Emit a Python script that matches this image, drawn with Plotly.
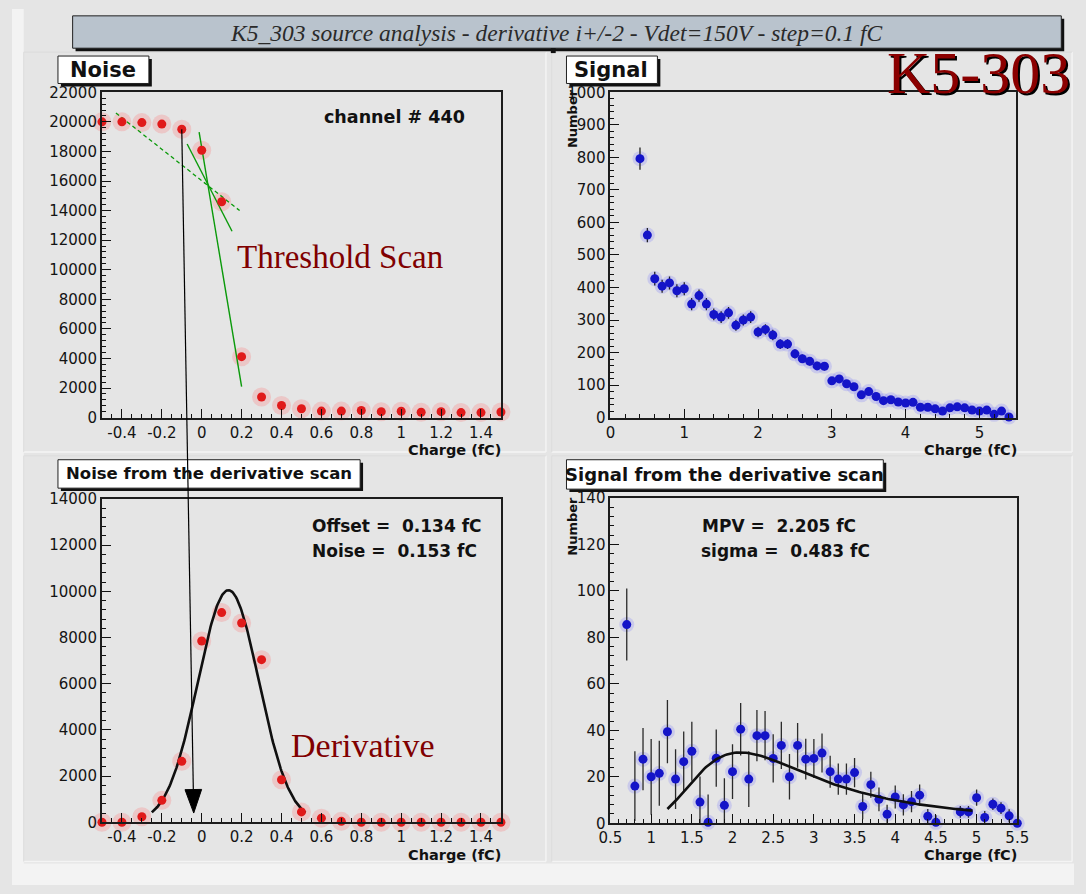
import numpy as np
import plotly.graph_objects as go

W, H = 1086, 894

# ---------------- data ----------------
# Threshold scan of channel 440: hit count vs threshold charge
thr_charge = [-0.5, -0.4, -0.3, -0.2, -0.1, 0.0, 0.1, 0.2, 0.3, 0.4, 0.5,
              0.6, 0.7, 0.8, 0.9, 1.0, 1.1, 1.2, 1.3, 1.4, 1.5]
thr_counts = [20000, 20000, 19950, 19850, 19500, 18080, 14600, 4120, 1390, 820, 600,
              440, 440, 480, 400, 430, 360, 400, 340, 340, 380]

# tangent construction drawn over the threshold scan
tangent_dashed_x = [-0.43, 0.19]
tangent_dashed_y = [20600, 14000]
tangent_upper_x = [-0.073, 0.152]
tangent_upper_y = [18500, 12600]
tangent_steep_x = [-0.013, 0.20]
tangent_steep_y = [19300, 2100]

# derivative of the threshold scan (noise peak)
der_charge = [-0.5, -0.4, -0.3, -0.2, -0.1, 0.0, 0.1, 0.2, 0.3, 0.4, 0.5,
              0.6, 0.7, 0.8, 0.9, 1.0, 1.1, 1.2, 1.3, 1.4, 1.5]
der_counts = [0, 0, 240, 950, 2640, 7850, 9080, 8630, 7040, 1840, 450,
              180, 40, 0, 0, 0, 0, 0, 0, 0, 0]
noise_offset = 0.134
noise_sigma = 0.153
noise_peak = 10050
noise_fit_range = [-0.25, 0.52]

# arrow from the threshold scan down to the derivative panel
arrow_tip = (-0.04, 400)

# source signal: integrated threshold scan
sig_charge = [round(0.4 + 0.1 * i, 1) for i in range(51)]
sig_counts = [796, 561, 427, 404, 414, 390, 396, 349, 375, 349, 317, 309, 322, 284,
              300, 309, 263, 271, 254, 226, 226, 196, 181, 173, 159, 158, 113, 119,
              104, 95, 70, 80, 65, 52, 55, 48, 45, 47, 32, 32, 27, 20, 30, 33, 30,
              23, 20, 23, 10, 20, 2]
sig_errors = [34, 22, 21, 20, 20, 20, 20, 19, 19, 19, 18, 18, 18, 17, 17, 18, 16,
              16, 16, 15, 15, 14, 13, 13, 13, 13, 11, 11, 10, 10, 8, 9, 8, 7, 7,
              7, 7, 7, 6, 6, 5, 4, 5, 6, 5, 5, 4, 5, 3, 4, 1]

# signal from the derivative scan
ds_charge = [0.7, 0.8, 0.9, 1.0, 1.1, 1.2, 1.3, 1.4, 1.5, 1.6, 1.7, 1.8, 1.9, 2.0,
             2.1, 2.2, 2.3, 2.4, 2.5, 2.6, 2.7, 2.8, 2.9, 3.0, 3.1, 3.2, 3.3, 3.4,
             3.5, 3.6, 3.7, 3.8, 3.9, 4.0, 4.1, 4.2, 4.3, 4.4, 4.5,
             4.8, 4.9, 5.0, 5.1, 5.2, 5.3, 5.4, 5.5]
ds_counts = [85.5, 16, 27.6, 20, 21.5, 39.4, 19, 26.5, 31, 9.1, 0.4, 28, 7.7, 22.2,
             40.5, 19, 37.7, 37.7, 27.9, 33.5, 20, 33.5, 27.6, 27.9, 30.2, 22.2, 19,
             19, 21.8, 7.2, 16.6, 10.3, 3.9, 11.3, 7.9, 9.3, 12.1, 3, 0.4,
             4.9, 4.9, 11, 2.5, 8.2, 6.5, 3.2, 0]
ds_errors = [15.5, 15, 13.4, 16.3, 14, 13.6, 12.9, 13, 12.7, 11, 12, 12.3, 11.7, 11.8,
             11.3, 12, 11, 10.6, 10.4, 10.2, 9.8, 9.6, 8.8, 8.4, 8.4, 6.9, 6.7, 6.7,
             6.3, 5.5, 5.6, 5.1, 4.1, 4.9, 4.6, 4.6, 4.6, 3.1, 3,
             2.5, 2.5, 3.5, 2.8, 2.5, 2.5, 2.8, 1]
landau_mpv = 2.205
landau_sigma = 0.483
landau_peak = 30.5
landau_fit_range = [1.2, 4.95]

# tick labels
tl_x_noise = ["-0.4", "-0.2", "0", "0.2", "0.4", "0.6", "0.8", "1", "1.2", "1.4"]
tl_y_thr = ["0", "2000", "4000", "6000", "8000", "10000", "12000", "14000",
            "16000", "18000", "20000", "22000"]
tl_y_der = ["0", "2000", "4000", "6000", "8000", "10000", "12000", "14000"]
tl_x_sig = ["0", "1", "2", "3", "4", "5"]
tl_y_sig = ["0", "100", "200", "300", "400", "500", "600", "700", "800", "900", "1000"]
tl_x_ds = ["0.5", "1", "1.5", "2", "2.5", "3", "3.5", "4", "4.5", "5", "5.5"]
tl_y_ds = ["0", "20", "40", "60", "80", "100", "120", "140"]

# ---------------- fit curves ----------------
def landau_density(lam):
    t = np.linspace(1e-9, 60.0, 120001)
    f = np.exp(-t * np.log(t) - lam * t) * np.sin(np.pi * t)
    dt = t[1] - t[0]
    return float(np.sum((f[1:] + f[:-1]) * 0.5) * dt / np.pi)

gx = np.linspace(noise_fit_range[0], noise_fit_range[1], 200)
gy = noise_peak * np.exp(-0.5 * ((gx - noise_offset) / noise_sigma) ** 2)

lx = np.linspace(landau_fit_range[0], landau_fit_range[1], 160)
lraw = np.array([landau_density((v - landau_mpv) / landau_sigma) for v in lx])
lmax = max(landau_density(l) for l in np.linspace(-0.5, 0.1, 61))
ly = landau_peak * lraw / lmax

# ---------------- geometry helpers (pixels -> paper) ----------------
def px(x):
    return x / W

def py(y):
    return 1 - y / H

PANELS = {
    "tl": dict(x=(92, 500), y=(85, 417), xr=(-0.5, 1.5), yr=(0, 22000)),
    "tr": dict(x=(612, 1027), y=(85, 417), xr=(0, 5.5), yr=(0, 1000)),
    "bl": dict(x=(92, 500), y=(500, 830), xr=(-0.5, 1.5), yr=(0, 14000)),
    "br": dict(x=(612, 1028), y=(499, 831), xr=(0.5, 5.5), yr=(0, 140)),
}

def to_paper(panel, xv, yv):
    p = PANELS[panel]
    fx = (xv - p["xr"][0]) / (p["xr"][1] - p["xr"][0])
    fy = (yv - p["yr"][0]) / (p["yr"][1] - p["yr"][0])
    x0, x1 = px(p["x"][0]), px(p["x"][1])
    y0, y1 = py(p["y"][1]), py(p["y"][0])
    return x0 + fx * (x1 - x0), y0 + fy * (y1 - y0)

TICKFONT = dict(family="DejaVu Sans", size=15, color="#141414")

def make_axes(panel, major_vals, labels, minor_step, letter):
    p = PANELS[panel]
    if letter == "x":
        dom = [px(p["x"][0]), px(p["x"][1])]
        rng = list(p["xr"])
    else:
        dom = [py(p["y"][1]), py(p["y"][0])]
        rng = list(p["yr"])
    n = int(round((rng[1] - rng[0]) / minor_step))
    minor_vals = [round(rng[0] + k * minor_step, 4) for k in range(n + 1)]
    return dict(domain=dom, range=rng, showline=True, mirror=True,
                linecolor="#1c1c1c", linewidth=2, showgrid=False, zeroline=False,
                ticks="inside", ticklen=9, tickwidth=1, tickcolor="#111",
                tickmode="array", tickvals=major_vals, ticktext=labels,
                tickfont=TICKFONT, fixedrange=True,
                minor=dict(ticks="inside", ticklen=4, tickwidth=1, tickcolor="#111",
                           tickmode="array", tickvals=minor_vals, showgrid=False))

fig = go.Figure()

RED = "#e01a1a"
BLUE = "#1414c8"

# ---- threshold scan (x / y) ----
fig.add_trace(go.Scatter(x=thr_charge, y=thr_counts, mode="markers", xaxis="x", yaxis="y",
                         marker=dict(size=19, color="rgba(250,130,130,0.3)"),
                         cliponaxis=False, hoverinfo="skip", showlegend=False))
fig.add_trace(go.Scatter(x=tangent_dashed_x, y=tangent_dashed_y, mode="lines", xaxis="x", yaxis="y",
                         line=dict(color="#0a9a0a", width=1.3, dash="4px,3px"), showlegend=False))
fig.add_trace(go.Scatter(x=tangent_upper_x, y=tangent_upper_y, mode="lines", xaxis="x", yaxis="y",
                         line=dict(color="#0a9a0a", width=1.4), showlegend=False))
fig.add_trace(go.Scatter(x=tangent_steep_x, y=tangent_steep_y, mode="lines", xaxis="x", yaxis="y",
                         line=dict(color="#0a9a0a", width=1.4), showlegend=False))
fig.add_trace(go.Scatter(x=thr_charge, y=thr_counts, mode="markers", xaxis="x", yaxis="y",
                         marker=dict(size=9, color=RED), cliponaxis=False, showlegend=False))

# ---- signal (x2 / y2) ----
fig.add_trace(go.Scatter(x=sig_charge, y=sig_counts, mode="markers", xaxis="x2", yaxis="y2",
                         marker=dict(size=15, color="rgba(110,110,255,0.22)"),
                         cliponaxis=False, hoverinfo="skip", showlegend=False))
fig.add_trace(go.Scatter(x=sig_charge, y=sig_counts, mode="markers", xaxis="x2", yaxis="y2",
                         error_y=dict(type="data", array=sig_errors, color="#222",
                                      thickness=1.3, width=0),
                         marker=dict(size=9, color=BLUE), cliponaxis=False, showlegend=False))

# ---- noise derivative (x3 / y3) ----
fig.add_trace(go.Scatter(x=der_charge, y=der_counts, mode="markers", xaxis="x3", yaxis="y3",
                         marker=dict(size=19, color="rgba(250,130,130,0.3)"),
                         cliponaxis=False, hoverinfo="skip", showlegend=False))
fig.add_trace(go.Scatter(x=gx, y=gy, mode="lines", xaxis="x3", yaxis="y3",
                         line=dict(color="#101010", width=2.6), showlegend=False))
fig.add_trace(go.Scatter(x=der_charge, y=der_counts, mode="markers", xaxis="x3", yaxis="y3",
                         marker=dict(size=9, color=RED), cliponaxis=False, showlegend=False))

# ---- signal derivative (x4 / y4) ----
fig.add_trace(go.Scatter(x=ds_charge, y=ds_counts, mode="markers", xaxis="x4", yaxis="y4",
                         marker=dict(size=15, color="rgba(110,110,255,0.22)"),
                         cliponaxis=False, hoverinfo="skip", showlegend=False))
fig.add_trace(go.Scatter(x=ds_charge, y=ds_counts, mode="markers", xaxis="x4", yaxis="y4",
                         error_y=dict(type="data", array=ds_errors, color="#2a2a2a",
                                      thickness=1.3, width=0),
                         marker=dict(size=9, color=BLUE), cliponaxis=False, showlegend=False))
fig.add_trace(go.Scatter(x=lx, y=ly, mode="lines", xaxis="x4", yaxis="y4",
                         line=dict(color="#101010", width=2.6), showlegend=False))

# ---------------- axes ----------------
v_x_noise = [-0.4, -0.2, 0, 0.2, 0.4, 0.6, 0.8, 1.0, 1.2, 1.4]
layout_axes = dict(
    xaxis=make_axes("tl", v_x_noise, tl_x_noise, 0.05, "x"),
    yaxis=make_axes("tl", list(range(0, 22001, 2000)), tl_y_thr, 400, "y"),
    xaxis2=make_axes("tr", [0, 1, 2, 3, 4, 5], tl_x_sig, 0.2, "x"),
    yaxis2=make_axes("tr", list(range(0, 1001, 100)), tl_y_sig, 20, "y"),
    xaxis3=make_axes("bl", v_x_noise, tl_x_noise, 0.05, "x"),
    yaxis3=make_axes("bl", list(range(0, 14001, 2000)), tl_y_der, 400, "y"),
    xaxis4=make_axes("br", [0.5 * k for k in range(1, 12)], tl_x_ds, 0.1, "x"),
    yaxis4=make_axes("br", list(range(0, 141, 20)), tl_y_ds, 4, "y"),
)
for i, (xa, ya) in enumerate([("x", "y"), ("x2", "y2"), ("x3", "y3"), ("x4", "y4")]):
    kx = "xaxis" if i == 0 else f"xaxis{i+1}"
    ky = "yaxis" if i == 0 else f"yaxis{i+1}"
    layout_axes[kx]["anchor"] = ya
    layout_axes[ky]["anchor"] = xa

# ---------------- decorations ----------------
PAD = "#e5e5e5"
shapes = []

def rect(x0, y0, x1, y1, fill, line=None, lw=0, layer="below"):
    shapes.append(dict(type="rect", xref="paper", yref="paper",
                       x0=px(x0), x1=px(x1), y0=py(y1), y1=py(y0),
                       fillcolor=fill, line=dict(color=line or fill, width=lw), layer=layer))

def hline(x0, x1, y, color, w=1.5):
    shapes.append(dict(type="line", xref="paper", yref="paper", x0=px(x0), x1=px(x1),
                       y0=py(y), y1=py(y), line=dict(color=color, width=w), layer="below"))

def vline(x, y0, y1, color, w=1.5):
    shapes.append(dict(type="line", xref="paper", yref="paper", x0=px(x), x1=px(x),
                       y0=py(y0), y1=py(y1), line=dict(color=color, width=w), layer="below"))

# outer margin of the canvas
rect(0, 0, 12, H, "#f3f3f3")
rect(0, 872, W, H, "#f3f3f3")
# pad borders
for (x0, y0, x1, y1) in [(12, 44, 546, 452), (552, 44, 1084, 452),
                         (12, 456, 546, 870), (552, 456, 1084, 870)]:
    hline(x0, x1, y1, "#f4f4f4", 1.5)
    vline(x1, y0, y1, "#f4f4f4", 1.5)
    hline(x0, x1, y0, "#dcdcdc", 1)
    vline(x0, y0, y1, "#dcdcdc", 1)

# boxed labels with drop shadow
def boxed(x0, y0, x1, y1, fill, shadow=3):
    rect(x0 + shadow, y0 + shadow, x1 + shadow, y1 + shadow, "#111111", layer="above")
    rect(x0, y0, x1, y1, fill, line="#202020", lw=1, layer="above")

boxed(62, 7, 1073, 40, "#b9c3cd")
rect(551, 40, 556, 45, "#111111", layer="above")
boxed(47, 48, 140, 76, "#ffffff")
boxed(567, 48, 660, 76, "#ffffff")
boxed(47, 460, 356, 489, "#ffffff")
boxed(567, 460, 891, 490, "#ffffff")

annotations = []

def text(x, y, s, size, family="DejaVu Sans", color="#111", bold=False, italic=False,
         xanchor="center", yanchor="middle", angle=0):
    if bold:
        s = f"<b>{s}</b>"
    if italic:
        s = f"<i>{s}</i>"
    annotations.append(dict(x=px(x), y=py(y), xref="paper", yref="paper", text=s,
                            showarrow=False, xanchor=xanchor, yanchor=yanchor,
                            textangle=angle, font=dict(family=family, size=size, color=color)))

text(557, 24, "K5_303 source analysis - derivative i+/-2 - Vdet=150V - step=0.1 fC", 23.5,
     family="Liberation Serif", color="#2a2a2a", italic=True)
# big sample label with shadow
text(990, 67, "K5-303", 60, family="Liberation Serif", color="#000000")
text(988, 65, "K5-303", 60, family="Liberation Serif", color="#8b0000")

text(93, 62, "Noise", 21, bold=True)
text(613, 62, "Signal", 21, bold=True)
text(201, 474, "Noise from the derivative scan", 16.5, bold=True, xanchor="center")
text(729, 475, "Signal from the derivative scan", 18, bold=True)

text(317, 110, "channel # 440", 17.5, bold=True, xanchor="left")
text(305, 528, "Offset =  0.134 fC", 17, bold=True, xanchor="left")
text(305, 553, "Noise =  0.153 fC", 17, bold=True, xanchor="left")
text(704, 528, "MPV =  2.205 fC", 17, bold=True, xanchor="left")
text(703, 553, "sigma =  0.483 fC", 17, bold=True, xanchor="left")

text(228, 253, "Threshold Scan", 33, family="Liberation Serif", color="#800000", xanchor="left")
text(283, 752, "Derivative", 34, family="Liberation Serif", color="#800000", xanchor="left")

for (xr, yc) in [(502, 450), (1030, 450), (502, 863), (1030, 863)]:
    text(xr, yc, "Charge (fC)", 14.5, bold=True, xanchor="right")
text(573, 112, "Number", 13, bold=True, angle=-90)
text(573, 528, "Number", 13, bold=True, angle=-90)

# arrow linking the threshold scan to its derivative
ax0, ay0 = to_paper("tl", thr_charge[4], thr_counts[4])
ax1, ay1 = to_paper("bl", arrow_tip[0], arrow_tip[1])
head_len, head_half = 24, 8.5
dxp, dyp = (ax1 - ax0) * W, (ay1 - ay0) * H
L = (dxp ** 2 + dyp ** 2) ** 0.5
ux, uy = dxp / L, dyp / L
bx, by = ax1 - ux * head_len / W, ay1 - uy * head_len / H
shapes.append(dict(type="line", xref="paper", yref="paper", x0=ax0, y0=ay0, x1=bx, y1=by,
                   line=dict(color="#000", width=1.2), layer="above"))
p1 = (bx - uy * head_half / W, by + ux * head_half / H)
p2 = (bx + uy * head_half / W, by - ux * head_half / H)
shapes.append(dict(type="path", xref="paper", yref="paper",
                   path=f"M {ax1} {ay1} L {p1[0]} {p1[1]} L {p2[0]} {p2[1]} Z",
                   fillcolor="#000", line=dict(color="#000", width=1), layer="above"))

fig.update_layout(
    width=W, height=H, margin=dict(l=0, r=0, t=0, b=0),
    paper_bgcolor=PAD, plot_bgcolor=PAD, showlegend=False,
    shapes=shapes, annotations=annotations, **layout_axes)

fig.write_html("out.html", config={"displayModeBar": False})
